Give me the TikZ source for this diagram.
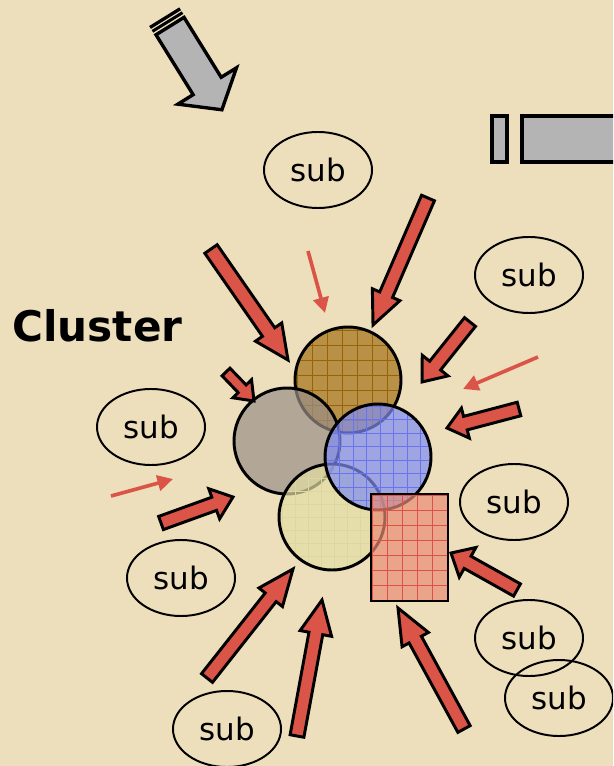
\documentclass[tikz,border=0pt]{standalone}
\usepackage{fontspec}
\setmainfont{DejaVu Sans}
\usetikzlibrary{arrows.meta,shapes.geometric}

\definecolor{parchment}{RGB}{237,223,187}
\definecolor{arrred}{RGB}{219,84,72}
\definecolor{arrgray}{RGB}{180,180,180}
\definecolor{brownfill}{RGB}{162,112,21}
\definecolor{browngrid}{RGB}{150,98,10}
\definecolor{grayfill}{RGB}{153,142,135}
\definecolor{bluefill}{RGB}{127,141,243}
\definecolor{bluegrid}{RGB}{105,115,235}
\definecolor{yellowfill}{RGB}{227,222,164}
\definecolor{yellowgrid}{RGB}{222,214,160}
\definecolor{redfill}{RGB}{232,140,116}
\definecolor{redgrid}{RGB}{225,80,70}

% block arrow: [style]{x1}{y1}{x2}{y2}{half shaft}{half head}{head length}
\newcommand{\blockarrow}[8][]{%
  \pgfmathsetmacro{\arrang}{atan2(#5-#3,#4-#2)}%
  \pgfmathsetmacro{\arrlen}{veclen(#4-#2,#5-#3)}%
  \pgfmathsetmacro{\arrneck}{\arrlen-#8}%
  \draw[#1,shift={(#2,#3)},rotate=-\arrang] (0,-#6) -- (\arrneck,-#6)
    -- (\arrneck,-#7) -- (\arrlen,0) -- (\arrneck,#7) -- (\arrneck,#6)
    -- (0,#6) -- cycle;}

\begin{document}
\begin{tikzpicture}[x=0.025cm,y=-0.025cm,
    redarr/.style={fill=arrred,draw=black,line width=2.1pt,line join=miter},
    grayarr/.style={fill=arrgray,draw=black,line width=2.4pt},
    thinarr/.style={draw=arrred,line width=2.6pt,
      -{Triangle[width=11pt,length=11pt]}},
    sub/.style={ellipse,draw,line width=1.4pt,inner sep=0pt,
      minimum width=2.7cm,minimum height=1.9cm,
      font=\fontsize{22}{26}\selectfont},
    shapeline/.style={draw=black,line width=2.1pt},
    gridline/.style={line width=0.6pt}]
\clip (0,0) rectangle (613,766);
\fill[parchment] (0,0) rectangle (613,766);

% gray arrows
\begin{scope}[shift={(165,18)},rotate=-58.2]
  \draw[grayarr] (9.5,-16.5) -- (80,-16.5) -- (80,-34.5) -- (108,0)
    -- (80,34.5) -- (80,16.5) -- (9.5,16.5) -- cycle;
  \fill (-1.5,-17.7) rectangle (1.8,17.7);
  \fill (3.2,-17.7) rectangle (6.2,17.7);
\end{scope}
\draw[grayarr] (492,116) rectangle (507,162);
\draw[grayarr] (522,116) rectangle (640,162);

\node[font=\fontsize{30}{34}\selectfont\bfseries,anchor=west,inner sep=0pt]
  (cl) at (12,326) {Cluster};

% subs
\node[sub] (s1) at (318,170) {sub};
\node[sub] (s2) at (529,275) {sub};
\node[sub] (s3) at (151,427) {sub};
\node[sub] (s4) at (181,578) {sub};
\node[sub] (s5) at (227,729) {sub};
\node[sub] (s6) at (514,502) {sub};
\node[sub] (s7) at (529,638) {sub};
\node[sub] (s8) at (559,698) {sub};

% the cluster
\begin{scope}
  \clip (348,380) circle (53);
  \fill[brownfill,fill opacity=0.7] (290,320) rectangle (410,440);
  \foreach \gx in {297,312,...,402}
    \draw[gridline,browngrid] (\gx,320) -- (\gx,440);
  \foreach \gy in {330,345,...,435}
    \draw[gridline,browngrid] (290,\gy) -- (410,\gy);
\end{scope}
\draw[shapeline] (348,380) circle (53);

\fill[grayfill,fill opacity=0.7] (287,441) circle (53);
\draw[shapeline] (287,441) circle (53);

\begin{scope}
  \clip (332,517) circle (53);
  \fill[yellowfill,fill opacity=0.7] (275,460) rectangle (390,575);
  \foreach \gx in {282,295,...,386}
    \draw[gridline,yellowgrid] (\gx,460) -- (\gx,575);
  \foreach \gy in {465,478,...,571}
    \draw[gridline,yellowgrid] (275,\gy) -- (390,\gy);
\end{scope}
\draw[shapeline] (332,517) circle (53);

\begin{scope}
  \clip (378,457) circle (53);
  \fill[bluefill,fill opacity=0.7] (320,400) rectangle (435,515);
  \foreach \gx in {326,339.5,...,432}
    \draw[gridline,bluegrid] (\gx,400) -- (\gx,515);
  \foreach \gy in {406,419.5,...,512}
    \draw[gridline,bluegrid] (320,\gy) -- (435,\gy);
\end{scope}
\draw[shapeline] (378,457) circle (53);

\begin{scope}
  \clip (371,494) rectangle (448,601);
  \fill[redfill,fill opacity=0.7] (371,494) rectangle (448,601);
  \foreach \gx in {372,387,...,447}
    \draw[gridline,redgrid] (\gx,494) -- (\gx,601);
  \foreach \gy in {495,510,...,600}
    \draw[gridline,redgrid] (371,\gy) -- (448,\gy);
\end{scope}
\draw[shapeline] (371,494) rectangle (448,601);

% arrows towards the cluster
\blockarrow[redarr]{211}{249}{288}{360}{7.5}{16}{34}
\blockarrow[redarr]{428}{198}{373}{325}{7}{15}{33}
\blockarrow[redarr]{226}{372}{254}{401}{5.5}{13}{17}
\blockarrow[redarr]{470}{322}{422}{382}{7}{16.5}{21}
\blockarrow[redarr]{519}{409}{447}{428}{7}{15.5}{19}
\blockarrow[redarr]{161}{523}{233}{497}{7}{16}{20}
\blockarrow[redarr]{207}{678}{293}{569}{7}{15}{36}
\blockarrow[redarr]{297}{736}{322}{600}{7}{16}{34}
\blockarrow[redarr]{517}{590}{451}{553}{7}{17}{19}
\blockarrow[redarr]{464}{729}{398}{608}{7}{15}{36}

\draw[thinarr] (308,251) -- (325,313);
\draw[thinarr] (538,357) -- (463,389);
\draw[thinarr] (111,496) -- (173,479);
\end{tikzpicture}
\end{document}
